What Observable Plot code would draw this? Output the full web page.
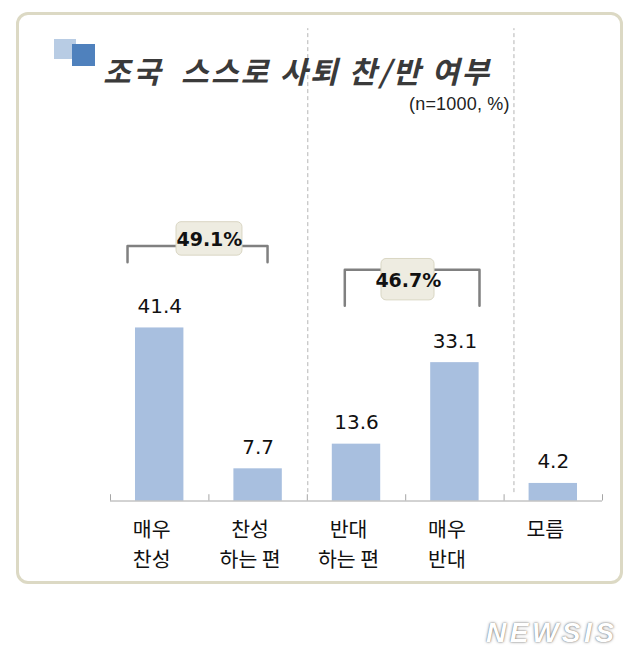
<!DOCTYPE html>
<html><head><meta charset="utf-8">
<script src="https://cdn.jsdelivr.net/npm/d3@7"></script>
<script src="https://cdn.jsdelivr.net/npm/@observablehq/plot@0.6"></script>
<style>
body{margin:0;background:#fff;}
#wrap{position:relative;width:639px;height:662px;overflow:hidden;font-family:"Noto Sans CJK KR",sans-serif;}
#frame{position:absolute;left:16px;top:12px;width:607px;height:572px;box-sizing:border-box;border:3px solid #dcd9c4;border-radius:12px;}
#chart{position:absolute;left:0;top:0;}
.sq1{position:absolute;left:54px;top:39px;width:22px;height:20px;background:#b8cce4;}
.sq2{position:absolute;left:72px;top:44px;width:23px;height:22px;background:#4f81bd;}
#title{position:absolute;left:103px;top:55px;font-size:30px;font-style:italic;font-weight:700;color:#3a3a3a;white-space:pre;line-height:1;letter-spacing:2.3px;}
#sub{position:absolute;left:409px;top:95px;font-family:"Liberation Sans",Arial,sans-serif;font-size:18px;color:#222;letter-spacing:0.2px;line-height:1;}
#wm{position:absolute;left:486px;top:619px;font-family:"Liberation Sans",Arial,sans-serif;font-weight:700;font-style:italic;font-size:28px;letter-spacing:3.5px;color:#fff;text-shadow:0 0 3px rgba(0,0,0,.5),0 0 1px rgba(0,0,0,.4);line-height:1;}
</style>
</head>
<body>
<div id="wrap">
  <div id="frame"></div>
  <div id="chart"></div>
  <div class="sq1"></div><div class="sq2"></div>
  <div id="title">조국  스스로 사퇴 찬/반 여부</div>
  <div id="sub">(n=1000, %)</div>
  <div id="wm">NEWSIS</div>
</div>
<script>
// ---- data ----
const categories = ["매우\n찬성", "찬성\n하는 편", "반대\n하는 편", "매우\n반대", "모름"];
const values = [41.4, 7.7, 13.6, 33.1, 4.2];
const groupLabels = ["49.1%", "46.7%"];
const groupTotals = [49.1, 46.7];
// annotation geometry (in category-index / percent units)
const groupSpanX1 = [0.173, 2.381];
const groupSpanX2 = [1.596, 3.750];
const groupLineY = [61.0, 55.3];
const groupFootY = [57.1, 46.7];
const groupBoxX1 = [0.671, 2.754];
const groupBoxX2 = [1.341, 3.293];
const groupBoxY1 = [58.7, 48.0];
const groupBoxY2 = [66.7, 57.9];
const groupLabelX = [1.005, 3.027];
const groupLabelY = [61.1, 51.3];
const dividers = [2.005, 4.10];

const rows = categories.map((c, i) => ({i, c, v: values[i]}));
const groups = groupLabels.map((t, g) => ({g, t, total: groupTotals[g]}));
const bracketPts = groups.flatMap(({g}) => [
  {g, x: groupSpanX1[g], y: groupFootY[g]},
  {g, x: groupSpanX1[g], y: groupLineY[g]},
  {g, x: groupSpanX2[g], y: groupLineY[g]},
  {g, x: groupSpanX2[g], y: groupFootY[g]}
]);
const half = 0.246;

const chart = Plot.plot({
  width: 639, height: 662,
  marginLeft: 110, marginRight: 37, marginTop: 82.5, marginBottom: 161.5,
  x: {domain: [0, categories.length], axis: null},
  y: {domain: [0, 100], axis: null},
  style: {background: "transparent", overflow: "visible"},
  marks: [
    Plot.ruleX(dividers, {x: d => d, y1: 2, y2: 113, stroke: "#b5b5b5", strokeDasharray: "4,3"}),
    Plot.rectY(rows, {x1: d => d.i + 0.5 - half, x2: d => d.i + 0.5 + half, y1: 0, y2: "v", fill: "#a8bfdf"}),
    Plot.ruleY([0], {x1: 0, x2: categories.length, stroke: "#a6a6a6"}),
    Plot.ruleX(d3.range(0, categories.length + 1), {x: d => d, y1: 0, y2: 1.5, stroke: "#a6a6a6"}),
    Plot.text(rows, {x: d => d.i + 0.5, y: "v", text: d => d.v.toFixed(1), dy: -15, lineAnchor: "bottom",
      fontSize: 20, fontFamily: "DejaVu Sans", fill: "#111"}),
    Plot.text(rows, {x: d => d.i + 0.5, y: 0, text: "c", dy: 15, dx: -8, lineAnchor: "top",
      fontSize: 20.5, lineHeight: 1.45, fontFamily: "Noto Sans CJK KR", fill: "#111"}),
    Plot.line(bracketPts, {x: "x", y: "y", z: "g", stroke: "#808080", strokeWidth: 2.5}),
    Plot.rect(groups, {x1: d => groupBoxX1[d.g], x2: d => groupBoxX2[d.g], y1: d => groupBoxY1[d.g], y2: d => groupBoxY2[d.g],
      fill: "#eeece1", stroke: "#d9d6c3", rx: 5}),
    Plot.text(groups, {x: d => groupLabelX[d.g], y: d => groupLabelY[d.g], text: "t", lineAnchor: "bottom",
      fontSize: 19, fontWeight: "bold", fontFamily: "DejaVu Sans", fill: "#111"})
  ]
});
document.getElementById("chart").appendChild(chart);
</script>
</body></html>
